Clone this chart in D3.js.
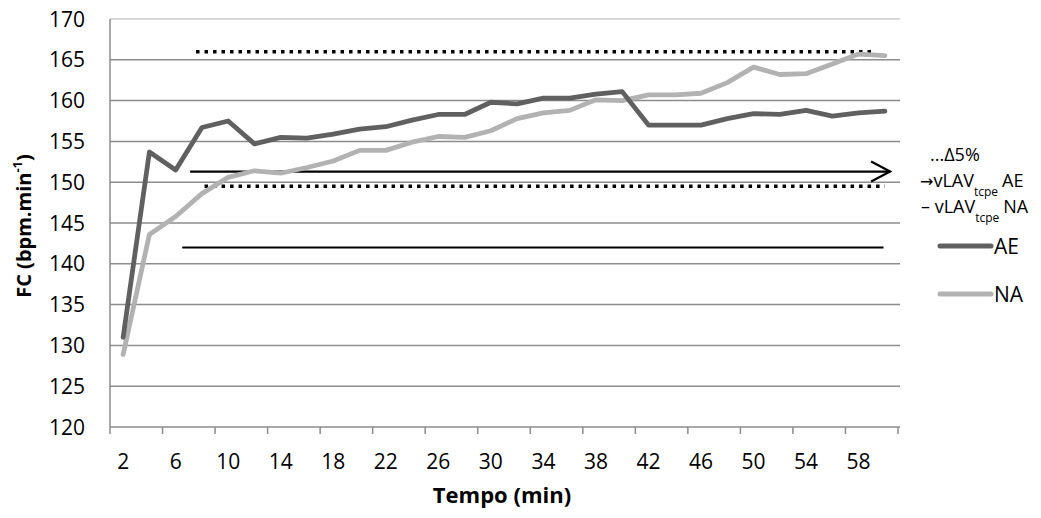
<!DOCTYPE html>
<html>
<head>
<meta charset="utf-8">
<script src="https://cdn.jsdelivr.net/npm/d3@7"></script>
<style>
  html, body { margin: 0; padding: 0; background: #fff; }
  svg { display: block; }
  text { font-family: "Open Sans", "Liberation Sans", sans-serif; }
</style>
</head>
<body>
<svg id="chart" width="1041" height="518"></svg>
<script>
// ---- data ----
const minutes = [2,4,6,8,10,12,14,16,18,20,22,24,26,28,30,32,34,36,38,40,42,44,46,48,50,52,54,56,58,60];
const aeValues = [131.0,153.7,151.5,156.7,157.5,154.7,155.5,155.4,155.9,156.5,156.8,157.6,158.3,158.3,159.8,159.6,160.3,160.3,160.8,161.1,157.0,157.0,157.0,157.8,158.4,158.3,158.8,158.1,158.5,158.7];
const naValues = [128.9,143.6,145.8,148.6,150.6,151.4,151.1,151.8,152.6,153.9,153.9,154.9,155.6,155.5,156.3,157.8,158.5,158.8,160.1,160.0,160.7,160.7,160.9,162.2,164.1,163.2,163.3,164.5,165.7,165.5];
const xTickLabels = [2,6,10,14,18,22,26,30,34,38,42,46,50,54,58];
const yTicks = [120,125,130,135,140,145,150,155,160,165,170];
// reference lines: value (bpm) and start/end time (min)
const dottedUpper = {value: 166.0, from: 7.55, to: 59.2};
const dottedLower = {value: 149.5, from: 8.2, to: 60.0};
const arrowAE = {value: 151.3, from: 7.1, to: 60.4};
const solidNA = {value: 142.0, from: 6.5, to: 59.9};

// ---- layout ----
const svg = d3.select("#chart");
const pL = 110, pR = 898, pT = 19, pB = 427;

const x = d3.scaleBand().domain(minutes).range([pL, pR]).paddingInner(0).paddingOuter(0);
const xm = d3.scaleLinear().domain([1, 61]).range([pL, pR]); // continuous minutes
const y = d3.scaleLinear().domain([120, 170]).range([pB, pT]);
const cx = m => x(m) + x.bandwidth() / 2;

// gridlines
svg.append("g").selectAll("line").data(yTicks).join("line")
  .attr("x1", pL).attr("x2", pR + 2)
  .attr("y1", d => y(d)).attr("y2", d => y(d))
  .attr("stroke", d => d === 170 ? "#c8c8c8" : "#8c8c8c").attr("stroke-width", 1.5);

// y axis line
svg.append("line").attr("x1", pL).attr("x2", pL).attr("y1", pT).attr("y2", pB)
  .attr("stroke", "#8c8c8c").attr("stroke-width", 1.5);

// y tick labels
svg.append("g").selectAll("text").data(yTicks).join("text")
  .attr("x", pL - 25).attr("y", d => y(d)).attr("dy", "0.36em")
  .attr("text-anchor", "end").attr("font-size", 21).attr("fill", "#000")
  .text(d => d);

// x axis (ticks every 2 categories)
const tickBoundaries = minutes.filter((d, i) => i % 2 === 0).map(d => x(d)).concat([pR]);
svg.append("g").selectAll("line").data(tickBoundaries).join("line")
  .attr("x1", d => d).attr("x2", d => d).attr("y1", pB).attr("y2", pB + 7)
  .attr("stroke", "#8c8c8c").attr("stroke-width", 1.5);
svg.append("g").selectAll("text").data(xTickLabels).join("text")
  .attr("x", d => cx(d)).attr("y", 469)
  .attr("text-anchor", "middle").attr("font-size", 21).attr("fill", "#000")
  .text(d => d);

// axis titles
svg.append("text").attr("x", 502).attr("y", 503)
  .attr("text-anchor", "middle").attr("font-size", 22).attr("font-weight", "bold")
  .text("Tempo (min)");
const yt = svg.append("text").attr("transform", `translate(31,226) rotate(-90)`)
  .attr("text-anchor", "middle").attr("font-size", 20).attr("font-weight", "bold");
yt.append("tspan").text("FC (bpm.min");
yt.append("tspan").attr("baseline-shift", "super").attr("font-size", 13).text("-1");
yt.append("tspan").text(")");

// reference lines
function hline(r) {
  return svg.append("line")
    .attr("x1", xm(r.from)).attr("x2", xm(r.to))
    .attr("y1", y(r.value)).attr("y2", y(r.value));
}
hline(dottedUpper).attr("stroke", "#000").attr("stroke-width", 3.5).attr("stroke-dasharray", "3.5,5");
hline(dottedLower).attr("stroke", "#000").attr("stroke-width", 3.5).attr("stroke-dasharray", "3.5,5");
hline(solidNA).attr("stroke", "#000").attr("stroke-width", 2);
hline(arrowAE).attr("stroke", "#000").attr("stroke-width", 2.2);
// open arrowhead
const ax = xm(arrowAE.to), ay = y(arrowAE.value);
svg.append("path").attr("d", `M${ax - 19},${ay - 10} L${ax},${ay} L${ax - 19},${ay + 10}`)
  .attr("fill", "none").attr("stroke", "#000").attr("stroke-width", 2.2);

// series
const line = d3.line().x((d, i) => cx(minutes[i])).y(d => y(d));
svg.append("path").datum(naValues).attr("d", line)
  .attr("fill", "none").attr("stroke", "#b2b2b2").attr("stroke-width", 4.8)
  .attr("stroke-linejoin", "round").attr("stroke-linecap", "round");
svg.append("path").datum(aeValues).attr("d", line)
  .attr("fill", "none").attr("stroke", "#606060").attr("stroke-width", 4.8)
  .attr("stroke-linejoin", "round").attr("stroke-linecap", "round");

// legend
const lg = svg.append("g").attr("font-size", 18).attr("fill", "#000");
lg.append("text").attr("x", 930).attr("y", 161).text("...Δ5%");
const t2 = lg.append("text").attr("x", 920).attr("y", 187);
t2.append("tspan").attr("font-family", "DejaVu Sans").attr("font-size", 16).text("→");
t2.append("tspan").text("vLAV");
t2.append("tspan").attr("baseline-shift", "sub").attr("font-size", 12).text("tcpe");
t2.append("tspan").attr("dx", 4).text("AE");
const t3 = lg.append("text").attr("x", 921).attr("y", 213);
t3.append("tspan").text("– vLAV");
t3.append("tspan").attr("baseline-shift", "sub").attr("font-size", 12).text("tcpe");
t3.append("tspan").attr("dx", 4).text("NA");

const legendItems = [
  {name: "AE", color: "#606060", yy: 246},
  {name: "NA", color: "#b2b2b2", yy: 294}
];
legendItems.forEach(d => {
  svg.append("line").attr("x1", 940).attr("x2", 991).attr("y1", d.yy).attr("y2", d.yy)
    .attr("stroke", d.color).attr("stroke-width", 5).attr("stroke-linecap", "round");
  svg.append("text").attr("x", 994).attr("y", d.yy).attr("dy", "0.36em")
    .attr("font-size", 21).text(d.name);
});
</script>
</body>
</html>
